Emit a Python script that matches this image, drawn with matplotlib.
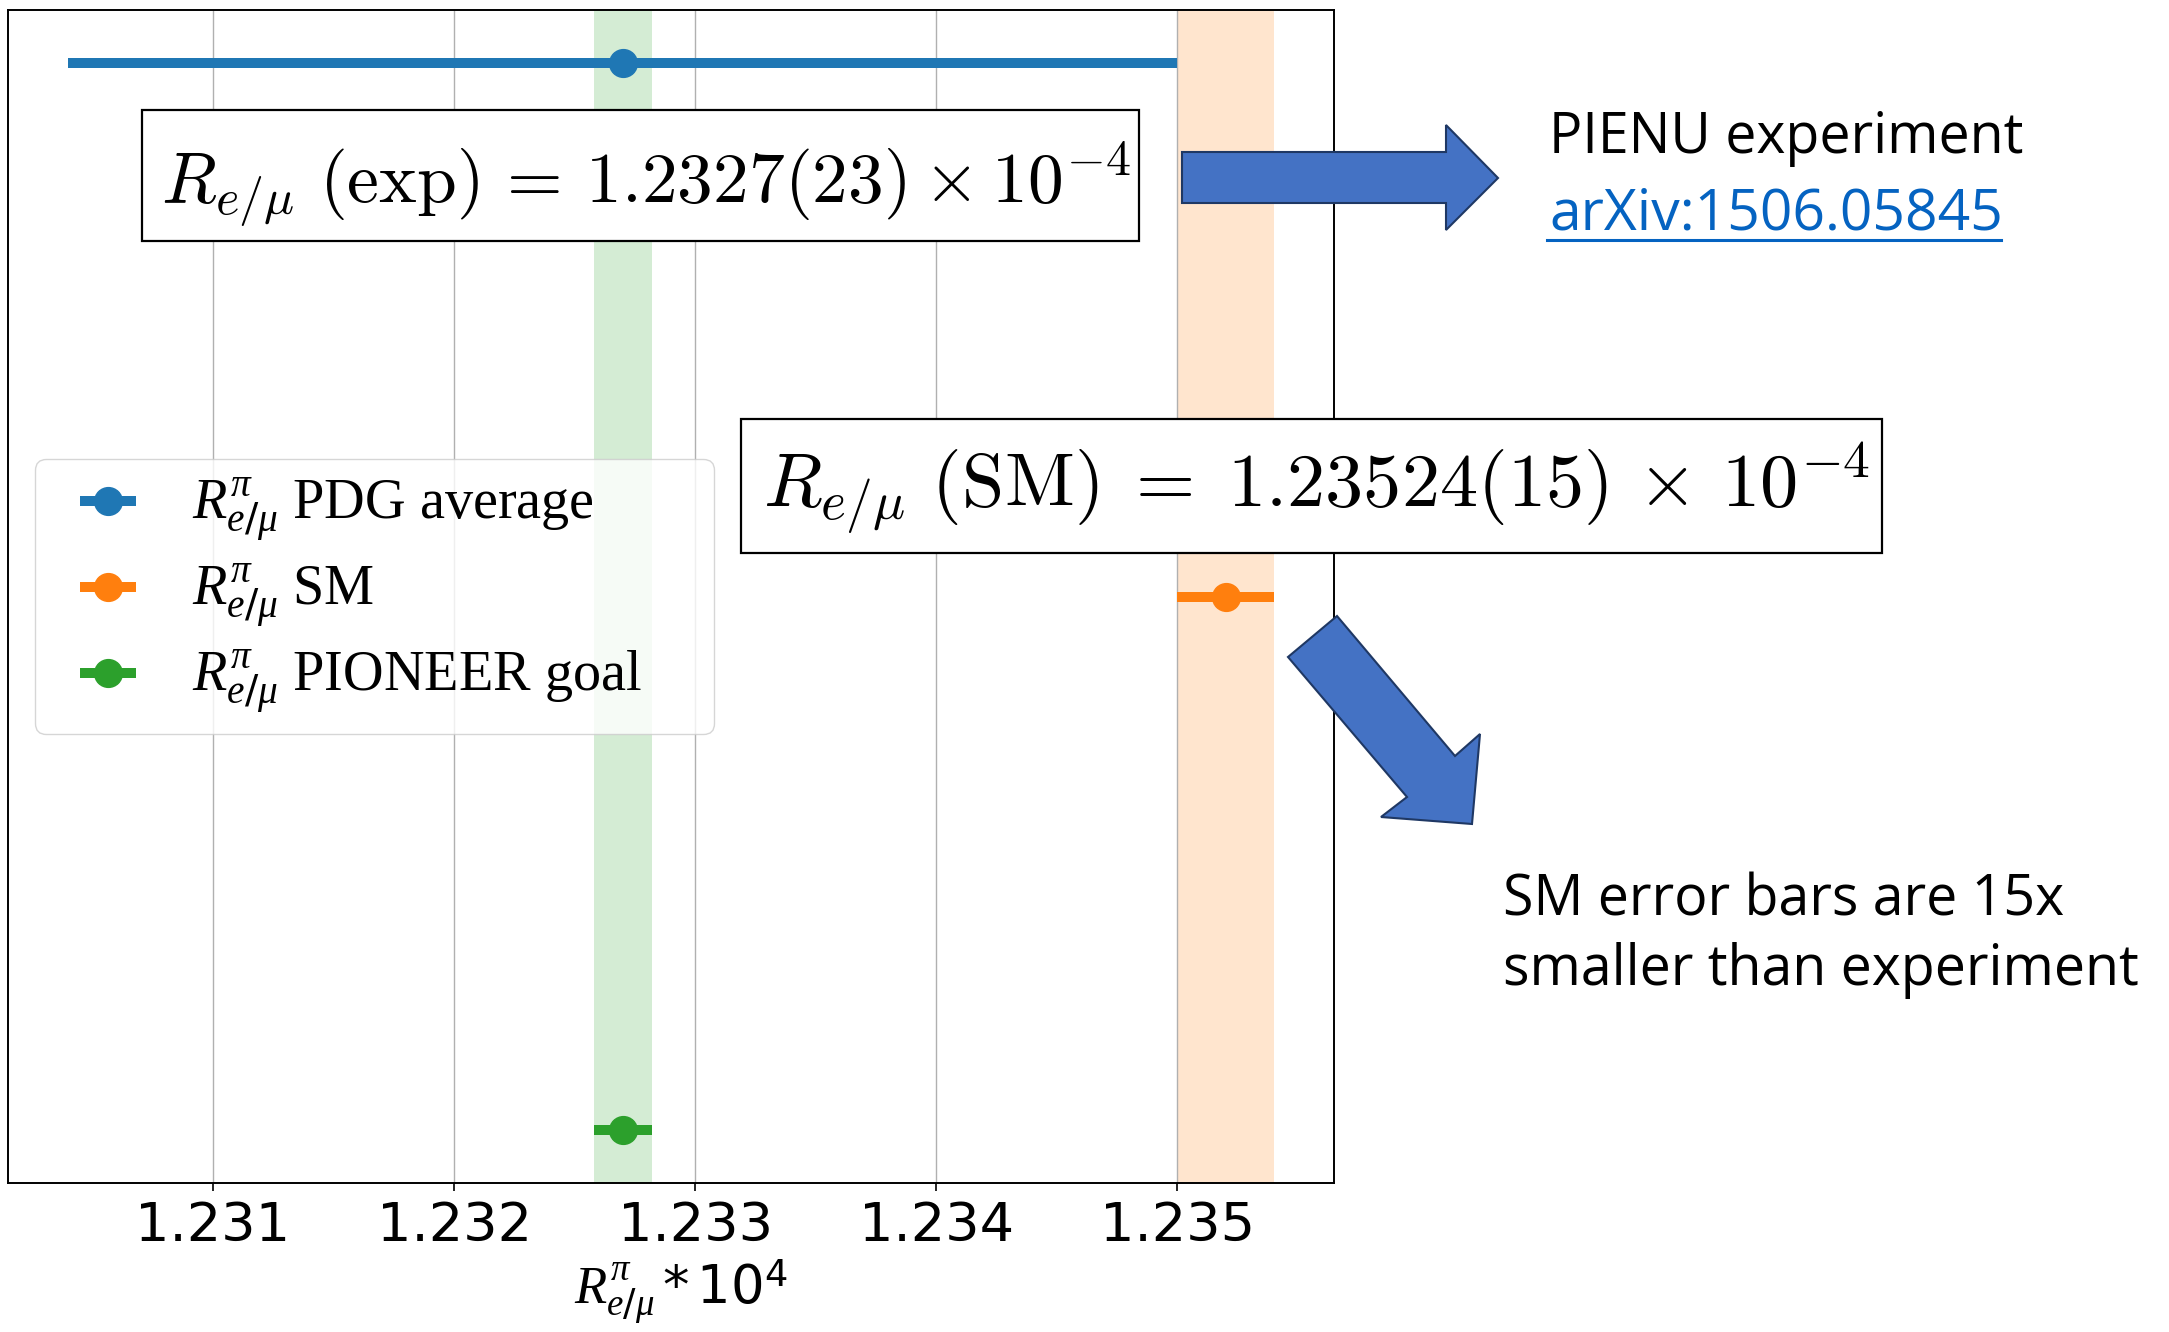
import matplotlib.pyplot as plt
from matplotlib.patches import Polygon, Rectangle
from matplotlib.lines import Line2D

W, H = 2169, 1332

# data
labels = ['PDG average', 'SM', 'PIONEER goal']
values = [1.2327, 1.2352, 1.2327]
errors = [0.0023, 0.0002, 0.00012]
ypos = [2, 1, 0]
colors = ['C0', 'C1', 'C2']
banded = [1, 2]  # SM and PIONEER get a shaded band
ticks = [1.231, 1.232, 1.233, 1.234, 1.235]

exp_text = r'$R_{e/\mu}\ \mathrm{(exp)}\,=\,1.2327(23) \times 10^{-4}$'
sm_text = r'$R_{e/\mu}\ \mathrm{(SM)}\;=\;1.23524(15)\,\times\,10^{-4}$'

plt.rcParams['mathtext.fontset'] = 'custom'
plt.rcParams['mathtext.it'] = 'Liberation Serif:italic'
plt.rcParams['mathtext.rm'] = 'DejaVu Sans'


def fx(x):
    return x / W


def fy(y):
    return 1 - y / H


fig = plt.figure(figsize=(W / 100, H / 100), dpi=100)
ax = fig.add_axes([fx(8), fy(1183), fx(1334) - fx(8), fy(10) - fy(1183)])

for i in range(len(labels)):
    ax.errorbar(values[i], ypos[i], xerr=errors[i], fmt='o', color=colors[i],
                ms=20, elinewidth=7.2,
                label=r'$R^{\pi}_{e/\mu}$ ' + labels[i])
for i in banded:
    ax.axvspan(values[i] - errors[i], values[i] + errors[i],
               color=colors[i], alpha=0.2, lw=0)

ax.grid(axis='x', color='#b0b0b0', lw=1.0)
ax.set_yticks([])
ax.set_xticks(ticks)
ax.tick_params(axis='x', labelsize=39, length=6, width=1.2, pad=6)
for s in ax.spines.values():
    s.set_linewidth(1.4)
ax.set_xlabel(r'$R^{\pi}_{e/\mu} * 10^4$', fontsize=38)
ax.xaxis.set_label_coords(0.507, -0.064)

# legend frame spans a fixed width, as in the original slide
ax_w = 1334 - 8
ax.legend(loc='center left', mode='expand', borderaxespad=0,
          bbox_to_anchor=(27 / ax_w, 0, (714 - 35) / ax_w, 1),
          prop={'family': 'Liberation Serif', 'size': 40.5},
          handletextpad=0.5, labelspacing=0.3, borderpad=0.3)

# formula boxes
fig.add_artist(Rectangle((fx(142), fy(241)), fx(1139) - fx(142), fy(110) - fy(241),
                         transform=fig.transFigure, facecolor='white',
                         edgecolor='black', lw=1.6, zorder=5))
fig.text(fx(646), fy(202), exp_text, math_fontfamily='cm', fontsize=51.5,
         ha='center', va='baseline', zorder=6)
fig.add_artist(Rectangle((fx(741), fy(553)), fx(1882) - fx(741), fy(419) - fy(553),
                         transform=fig.transFigure, facecolor='white',
                         edgecolor='black', lw=1.6, zorder=5))
fig.text(fx(1317), fy(508), sm_text, math_fontfamily='cm', fontsize=55,
         ha='center', va='baseline', zorder=6)

# block arrows
right_arrow = [(1182, 152), (1446, 152), (1446, 125), (1498, 178),
               (1446, 230), (1446, 203), (1182, 203)]
diag_arrow = [(1288, 657), (1337, 616), (1455, 756), (1480, 734),
              (1472, 824), (1381, 817), (1407, 797)]
for pts in [right_arrow, diag_arrow]:
    fig.add_artist(Polygon([(fx(x), fy(y)) for x, y in pts], closed=True,
                           transform=fig.transFigure, facecolor='#4472C4',
                           edgecolor='#1F3864', lw=1.5, zorder=5))

# side notes
note = dict(family='Open Sans', va='baseline', ha='left')
fig.text(fx(1549), fy(153), 'PIENU experiment', color='black', fontsize=40, **note)
fig.text(fx(1549), fy(230), 'arXiv:1506.05845', color='#0563C1', fontsize=41, **note)
fig.add_artist(Line2D([fx(1547), fx(2001)], [fy(239.5), fy(239.5)],
                      transform=fig.transFigure, color='#0563C1', lw=2.2))
fig.text(fx(1503), fy(915), 'SM error bars are 15x', color='black', fontsize=40, **note)
fig.text(fx(1503), fy(985), 'smaller than experiment', color='black', fontsize=40, **note)

fig.savefig('out.png', dpi=100)
